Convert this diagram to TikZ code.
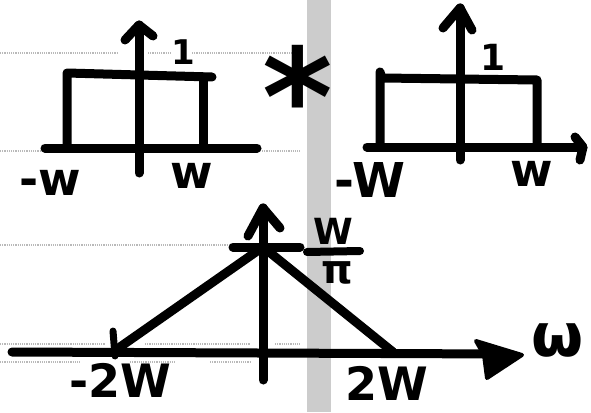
\documentclass[tikz,border=0pt]{standalone}
\usepackage{fontspec}
\setmainfont{DejaVu Sans}
\tikzset{
  ink/.style={line width=9pt, line cap=round, line join=round},
  lbl/.style={inner sep=0pt, font=\bfseries\fontsize{#1}{#1}\selectfont},
  speck/.style={gray!55, line width=1.2pt, densely dotted},
}
\begin{document}
\begin{tikzpicture}[x=1pt,y=-1pt]
\useasboundingbox (0,0) rectangle (591,412);
% shaded strip down the page
\fill[gray!40] (307,0) rectangle (331,412);
% faint ruled lines
\draw[speck] (0,53) -- (118,53) (148,53) -- (172,53) (192,53) -- (300,53);
\draw[speck] (0,151) -- (40,151) (262,151) -- (300,151);
\draw[speck] (0,245) -- (228,245);
\draw[speck] (0,344) -- (105,344) (145,344) -- (250,344) (275,344) -- (300,344);
\draw[speck] (0,362) -- (80,362) (130,362) -- (175,362) (210,362) -- (250,362);

% ---- first rectangle pulse ----
\coordinate (a1b) at (139,173);
\coordinate (a1t) at (139,25);
\coordinate (h1l) at (45,148);
\coordinate (h1r) at (257,148);
\draw[ink] (a1b) -- (a1t);
\draw[ink] (125,40) -- (a1t) -- (153,36);
\draw[ink] (h1l) -- (h1r);
\draw[ink] (67,148) -- (67,73) -- (212,77);
\draw[ink] (203,77) -- (203,148);
\node[lbl=34] (one1) at (183,52) {1};
\node[lbl=46] (mw1) at (50,183) {-w};
\node[lbl=46] (w1) at (192,176) {w};

% convolution sign
\node[lbl=135] (conv) at (298,95) {*};

% ---- second rectangle pulse ----
\coordinate (a2b) at (460,160);
\coordinate (a2t) at (460,8);
\coordinate (h2l) at (367,147);
\coordinate (h2r) at (583,147);
\draw[ink] (a2b) -- (a2t);
\draw[ink] (443,28) -- (a2t) -- (472,30);
\draw[ink] (h2l) -- (h2r);
\draw[ink] (575,137) -- (h2r) -- (580,160);
\draw[ink] (380,147) -- (380,72) -- (382,78) -- (537,80) -- (537,147);
\node[lbl=36] (one2) at (493,57) {1};
\node[lbl=48] (mw2) at (370,180) {-W};
\node[lbl=46] (w2) at (532,174) {w};

% ---- triangle result ----
\coordinate (a3b) at (263,380);
\coordinate (a3t) at (263,208);
\coordinate (h3l) at (12,352);
\coordinate (h3r) at (522,355);
\coordinate (tl) at (120,347);
\coordinate (tp) at (263,247);
\coordinate (tr) at (393,352);
\draw[ink] (h3l) -- (505,354);
\fill[line join=round, draw, line width=4pt] (h3r) -- (476,341) -- (484,355) -- (487,378) -- cycle;
\draw[ink] (a3b) -- (a3t);
\draw[ink] (248,236) -- (a3t) -- (280,228);
\draw[ink] (233,247) -- (300,247);
\draw[ink] (tl) -- (tp) -- (tr);
\draw[ink, line width=7pt] (113,331) -- (115,356);
\node[lbl=46, text height=33pt, text depth=0pt] (m2w) at (120,381) {-2W};
\node[lbl=46] (p2w) at (387,383) {2W};
\node[lbl=60] (om) at (558,340) {ω};
% peak value W/pi
\node[lbl=36, text height=26pt, text depth=0pt] (fw) at (333,231) {W};
\node[lbl=40, text height=22pt, text depth=0pt] (fpi) at (337,272) {π};
\draw[ink, line width=8pt] (307,252) -- (360,251);
\end{tikzpicture}
\end{document}
